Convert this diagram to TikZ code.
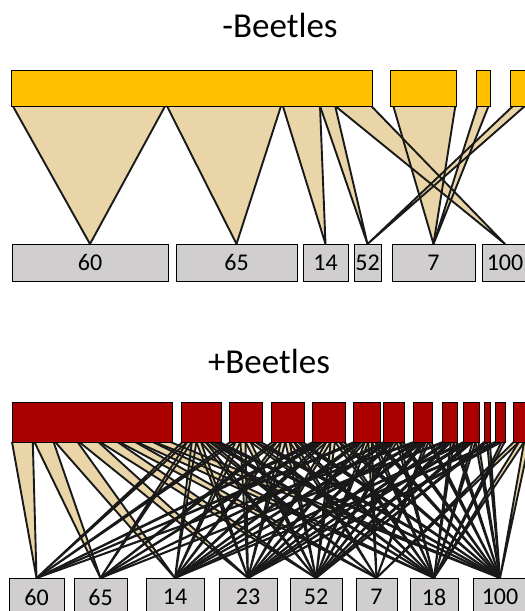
\documentclass[tikz,border=0pt]{standalone}
\usepackage{fontspec}
\setmainfont{Carlito}
\usetikzlibrary{calc}
\definecolor{amber}{HTML}{FFC000}
\definecolor{darkred}{HTML}{AA0000}
\definecolor{tan}{HTML}{E9D5A8}
\definecolor{boxgray}{HTML}{D0CECE}
\pgfdeclarelayer{fills}
\pgfdeclarelayer{edges}
\pgfsetlayers{fills,edges,main}
% one wedge: part #2..#3 of the lower side of #1 down to #4
\newcommand{\flow}[4]{%
  \begin{pgfonlayer}{fills}
    \fill[tan] ($(#1.south west)!#2!(#1.south east)$) -- ($(#1.south west)!#3!(#1.south east)$) -- (#4.north) -- cycle;
  \end{pgfonlayer}
  \begin{pgfonlayer}{edges}
    \draw[flowline] ($(#1.south west)!#2!(#1.south east)$) -- (#4.north) -- ($(#1.south west)!#3!(#1.south east)$);
  \end{pgfonlayer}}
% equal wedges of #1 to the #2 hosts in #3
\newcommand{\spread}[3]{%
  \foreach \t [count=\i] in {#3} {
    \pgfmathsetmacro\fa{0.04+0.92*(\i-1)/#2}
    \pgfmathsetmacro\fb{0.04+0.92*\i/#2}
    \flow{#1}{\fa}{\fb}{\t}
  }}
\begin{document}
\begin{tikzpicture}[x=1pt, y=-1pt,
  every node/.style={inner sep=0, outer sep=0},
  host/.style={draw, line width=1pt, fill=boxgray, minimum height=37pt, font=\fontsize{24}{28}\selectfont},
  parA/.style={draw, line width=1pt, fill=amber, minimum height=36pt},
  parB/.style={draw, line width=1pt, fill=darkred, minimum height=40pt},
  flowline/.style={draw=black!90, line width=1.9pt, line join=round},
  title/.style={font=\fontsize{35}{40}\selectfont, anchor=base}]
\useasboundingbox (0,0) rectangle (525,611);

% -Beetles
\node[title] (tA) at (280,37) {-Beetles};
\node[parA, minimum width=361pt] (pA1) at (191.5,88) {};
\node[parA, minimum width=66pt] (pA2) at (423,88) {};
\node[parA, minimum width=14pt] (pA3) at (483,88) {};
\node[parA, minimum width=25pt] (pA4) at (522.5,88) {};
\node[host, minimum width=156pt] (hA60) at (90,262.5) {60};
\node[host, minimum width=121pt] (hA65) at (236.5,262.5) {65};
\node[host, minimum width=45pt] (hA14) at (325.5,262.5) {14};
\node[host, minimum width=27pt] (hA52) at (367.5,262.5) {52};
\node[host, minimum width=83pt] (hA7) at (433.5,262.5) {7};
\node[host, minimum width=46pt] (hA100) at (505,262.5) {100};
\flow{pA1}{0.005}{0.427}{hA60}
\flow{pA1}{0.432}{0.748}{hA65}
\flow{pA1}{0.753}{0.856}{hA14}
\flow{pA1}{0.856}{0.898}{hA52}
\flow{pA1}{0.898}{0.998}{hA100}
\flow{pA2}{0.05}{0.99}{hA7}
\flow{pA3}{0.1}{0.9}{hA7}
\flow{pA4}{0.12}{0.6}{hA52}

% +Beetles
\node[title] (tB) at (269,373) {+Beetles};
\node[parB, minimum width=160pt] (pB1) at (92,422) {};
\node[parB, minimum width=40pt] (pB2) at (201,422) {};
\node[parB, minimum width=33pt] (pB3) at (245.5,422) {};
\node[parB, minimum width=33pt] (pB4) at (287.5,422) {};
\node[parB, minimum width=33pt] (pB5) at (328.5,422) {};
\node[parB, minimum width=27pt] (pB6) at (366.5,422) {};
\node[parB, minimum width=21pt] (pB7) at (393.5,422) {};
\node[parB, minimum width=19pt] (pB8) at (422.5,422) {};
\node[parB, minimum width=15pt] (pB9) at (449.5,422) {};
\node[parB, minimum width=16pt] (pB10) at (471,422) {};
\node[parB, minimum width=6pt] (pB11) at (487,422) {};
\node[parB, minimum width=10pt] (pB12) at (500,422) {};
\node[parB, minimum width=17pt] (pB13) at (521.5,422) {};
\node[host, minimum width=55pt, minimum height=38pt] (hB60) at (36.5,597) {60};
\node[host, minimum width=53pt, minimum height=38pt] (hB65) at (100.5,597) {65};
\node[host, minimum width=58pt, minimum height=38pt] (hB14) at (175,597) {14};
\node[host, minimum width=58pt, minimum height=38pt] (hB23) at (248,597) {23};
\node[host, minimum width=52pt, minimum height=38pt] (hB52) at (316,597) {52};
\node[host, minimum width=41pt, minimum height=38pt] (hB7) at (376.5,597) {7};
\node[host, minimum width=48pt, minimum height=38pt] (hB18) at (434,597) {18};
\node[host, minimum width=54pt, minimum height=38pt] (hB100) at (500,597) {100};
\flow{pB1}{0.0}{0.13}{hB60}
\flow{pB1}{0.14}{0.26}{hB65}
\flow{pB1}{0.27}{0.41}{hB14}
\flow{pB1}{0.42}{0.54}{hB23}
\flow{pB1}{0.55}{0.66}{hB52}
\flow{pB1}{0.67}{0.77}{hB7}
\flow{pB1}{0.78}{0.88}{hB18}
\flow{pB1}{0.89}{0.99}{hB100}
\spread{pB2}{8}{hB60,hB65,hB14,hB23,hB52,hB7,hB18,hB100}
\spread{pB3}{6}{hB60,hB14,hB23,hB52,hB18,hB100}
\spread{pB4}{7}{hB65,hB14,hB23,hB52,hB7,hB18,hB100}
\spread{pB5}{7}{hB60,hB65,hB14,hB23,hB52,hB18,hB100}
\spread{pB6}{7}{hB60,hB14,hB23,hB52,hB7,hB18,hB100}
\spread{pB7}{6}{hB65,hB14,hB23,hB52,hB18,hB100}
\spread{pB8}{6}{hB60,hB14,hB23,hB52,hB7,hB100}
\spread{pB9}{5}{hB65,hB23,hB52,hB18,hB100}
\spread{pB10}{5}{hB14,hB23,hB52,hB18,hB100}
\spread{pB11}{2}{hB52,hB100}
\spread{pB12}{3}{hB14,hB23,hB18}
\spread{pB13}{3}{hB7,hB18,hB100}
\end{tikzpicture}
\end{document}
